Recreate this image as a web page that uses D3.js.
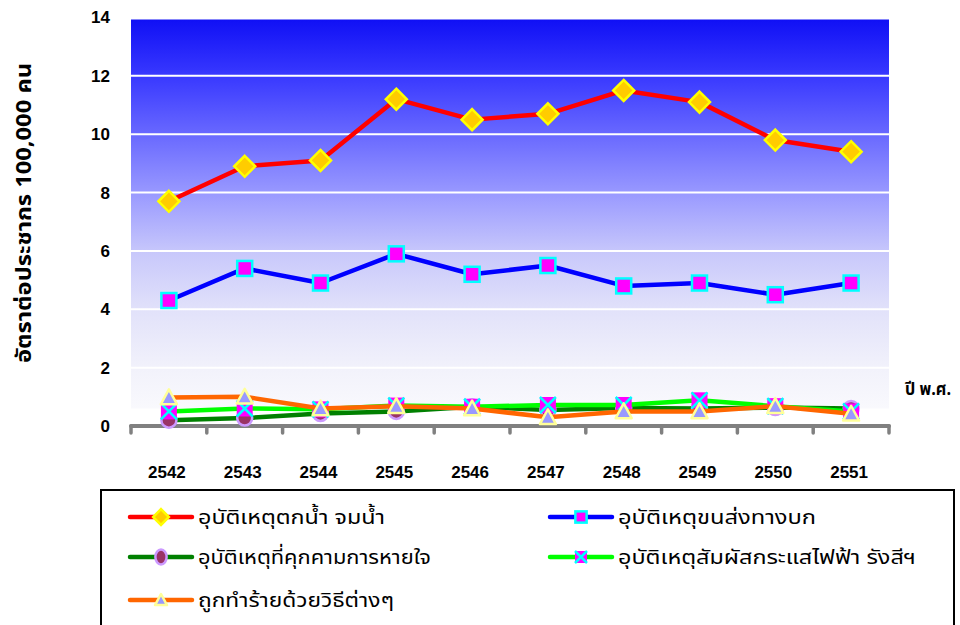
<!DOCTYPE html>
<html><head><meta charset="utf-8">
<script src="https://cdn.jsdelivr.net/npm/d3@7"></script>
<style>body{margin:0;background:#fff}svg{display:block}</style>
</head><body>
<svg id="c" width="960" height="625"></svg>
<script>
const years = ["2542","2543","2544","2545","2546","2547","2548","2549","2550","2551"];
const drowning = [7.7, 8.9, 9.1, 11.2, 10.5, 10.7, 11.5, 11.1, 9.8, 9.4];
const transport = [4.3, 5.4, 4.9, 5.9, 5.2, 5.5, 4.8, 4.9, 4.5, 4.9];
const choking = [0.2, 0.27, 0.43, 0.5, 0.66, 0.55, 0.62, 0.6, 0.63, 0.6];
const electric = [0.5, 0.6, 0.57, 0.7, 0.66, 0.72, 0.72, 0.88, 0.68, 0.5];
const assault = [0.98, 1.0, 0.6, 0.68, 0.6, 0.3, 0.5, 0.5, 0.68, 0.42];
const yTicks = [0, 2, 4, 6, 8, 10, 12, 14];
const seriesNames = ["อุบัติเหตุตกน้ำ จมน้ำ", "อุบัติเหตุขนส่งทางบก", "อุบัติเหตุที่คุกคามการหายใจ", "อุบัติเหตุสัมผัสกระแสไฟฟ้า รังสีฯ", "ถูกทำร้ายด้วยวิธีต่างๆ"];
const yTitle = "อัตราต่อประชากร 100,000 คน";
const xTitle = "ปี พ.ศ.";

const series = [
  {name: seriesNames[0], values: drowning, line: "#ff0000", marker: "diamond", fill: "#ffcc00", stroke: "#ffff00"},
  {name: seriesNames[1], values: transport, line: "#0000ff", marker: "square", fill: "#ff00ff", stroke: "#00ffff"},
  {name: seriesNames[2], values: choking, line: "#008000", marker: "circle", fill: "#993366", stroke: "#cc99ff"},
  {name: seriesNames[3], values: electric, line: "#00ff00", marker: "xsq", fill: "#ff00ff", stroke: "#00ffff"},
  {name: seriesNames[4], values: assault, line: "#ff6600", marker: "triangle", fill: "#9999ff", stroke: "#ffff99"}
];

const svg = d3.select("#c");
const x = d3.scaleBand().domain(years).range([131, 889]);
const y = d3.scaleLinear().domain([0, 14]).range([426, 17.5]);
const cx = d => x(d) + x.bandwidth() / 2;
const thaiFont = "Noto Sans Thai, Noto Sans, DejaVu Sans, sans-serif";
const latinFont = "Liberation Sans, Arial, sans-serif";

// gradient
const defs = svg.append("defs");
const g = defs.append("linearGradient").attr("id", "bg").attr("x1", 0).attr("y1", 0).attr("x2", 0).attr("y2", 1);
[[0, "#1010f5"], [0.15, "#3a3aff"], [0.3, "#6a6aff"], [0.45, "#9a9aff"], [0.6, "#c8c8fb"], [0.75, "#e2e2fa"], [0.9, "#f2f2fb"], [1, "#f9f9fd"]]
  .forEach(s => g.append("stop").attr("offset", s[0]).attr("stop-color", s[1]));

svg.append("rect").attr("x", x.range()[0]).attr("y", y(14) + 2).attr("width", x.range()[1] - x.range()[0])
  .attr("height", y(0.6) - y(14) - 2).attr("fill", "url(#bg)");

// gridlines
svg.append("g").selectAll("line").data(yTicks.filter(t => t > 0 && t < 14)).join("line")
  .attr("x1", x.range()[0]).attr("x2", x.range()[1])
  .attr("y1", d => y(d)).attr("y2", d => y(d))
  .attr("stroke", "#ffffff").attr("stroke-width", 2);

// y labels
svg.append("g").selectAll("text").data(yTicks).join("text")
  .attr("x", 110).attr("y", d => y(d)).attr("dy", "0.35em").attr("text-anchor", "end")
  .attr("font-family", latinFont).attr("font-weight", "bold").attr("font-size", 17)
  .text(d => d);

// x axis
const xa = svg.append("g").attr("transform", `translate(0,${y(0)})`);
xa.append("line").attr("x1", x.range()[0]).attr("x2", x.range()[1]).attr("y1", 0).attr("y2", 0)
  .attr("stroke", "#808080").attr("stroke-width", 4).attr("stroke-linecap", "round");
const tickXs = years.map(d => x(d)).concat([x.range()[1]]);
xa.selectAll("line.t").data(tickXs).join("line").attr("class", "t")
  .attr("x1", d => d).attr("x2", d => d).attr("y1", 0).attr("y2", 7)
  .attr("stroke", "#808080").attr("stroke-width", 3.5).attr("stroke-linecap", "round");
svg.append("g").selectAll("text").data(years).join("text")
  .attr("x", d => cx(d) - 2).attr("y", 478).attr("text-anchor", "middle")
  .attr("font-family", latinFont).attr("font-weight", "bold").attr("font-size", 17)
  .text(d => d);

svg.append("text").attr("x", 905).attr("y", 395).attr("font-family", thaiFont)
  .attr("font-weight", "bold").attr("font-size", 18)
  .attr("textLength", 46).attr("lengthAdjust", "spacingAndGlyphs").text(xTitle);

svg.append("text").attr("transform", "translate(31,213) rotate(-90)").attr("text-anchor", "middle")
  .attr("font-family", thaiFont).attr("font-weight", "bold").attr("font-size", 22)
  .attr("textLength", 300).attr("lengthAdjust", "spacingAndGlyphs").text(yTitle);

function drawMarker(sel, s, px, py, scale) {
  const k = scale || 1;
  if (s.marker === "diamond") {
    const r = 10.5 * k;
    sel.append("path").attr("d", `M${px},${py - r}L${px + r},${py}L${px},${py + r}L${px - r},${py}Z`)
      .attr("fill", s.fill).attr("stroke", s.stroke).attr("stroke-width", 2.5);
  } else if (s.marker === "square") {
    const r = 7.5 * k;
    sel.append("rect").attr("x", px - r).attr("y", py - r).attr("width", 2 * r).attr("height", 2 * r)
      .attr("fill", s.fill).attr("stroke", s.stroke).attr("stroke-width", 2.5);
  } else if (s.marker === "circle") {
    sel.append("ellipse").attr("cx", px).attr("cy", py).attr("rx", 7.5 * k).attr("ry", 7.5)
      .attr("fill", s.fill).attr("stroke", s.stroke).attr("stroke-width", 2.5);
  } else if (s.marker === "xsq") {
    const r = 8 * k;
    sel.append("rect").attr("x", px - r).attr("y", py - r).attr("width", 2 * r).attr("height", 2 * r).attr("fill", s.fill);
    sel.append("path").attr("d", `M${px - r},${py - r}L${px + r},${py + r}M${px + r},${py - r}L${px - r},${py + r}`)
      .attr("stroke", s.stroke).attr("stroke-width", 2.5);
  } else if (s.marker === "triangle") {
    const r = 8 * k;
    sel.append("path").attr("d", `M${px},${py - r}L${px + r},${py + r * 0.85}L${px - r},${py + r * 0.85}Z`)
      .attr("fill", s.fill).attr("stroke", s.stroke).attr("stroke-width", 2.5).attr("stroke-linejoin", "round");
  }
}

const line = d3.line().x((d, i) => cx(years[i])).y(d => y(d));
series.forEach(s => {
  const gs = svg.append("g");
  gs.append("path").datum(s.values).attr("d", line).attr("fill", "none")
    .attr("stroke", s.line).attr("stroke-width", 4.5).attr("stroke-linejoin", "round");
  s.values.forEach((v, i) => drawMarker(gs, s, cx(years[i]), y(v)));
});

// legend
const lg = svg.append("g");
lg.append("rect").attr("x", 101).attr("y", 490).attr("width", 853).attr("height", 150)
  .attr("fill", "#fff").attr("stroke", "#000").attr("stroke-width", 2);
const pos = [[130, 517], [550, 517], [130, 557], [550, 557], [130, 600]];
const legendLen = [187, 198, 233, 298, 196];
series.forEach((s, i) => {
  const [lx, ly] = pos[i];
  lg.append("line").attr("x1", lx).attr("x2", lx + 62).attr("y1", ly).attr("y2", ly)
    .attr("stroke", s.line).attr("stroke-width", 4.5).attr("stroke-linecap", "round");
  drawMarker(lg, s, lx + 31, ly, 0.75);
  lg.append("text").attr("x", lx + 68).attr("y", ly).attr("dy", "0.35em")
    .attr("font-family", thaiFont).attr("font-size", 20)
    .attr("textLength", legendLen[i]).attr("lengthAdjust", "spacingAndGlyphs")
    .text(s.name);
});
</script>
</body></html>
